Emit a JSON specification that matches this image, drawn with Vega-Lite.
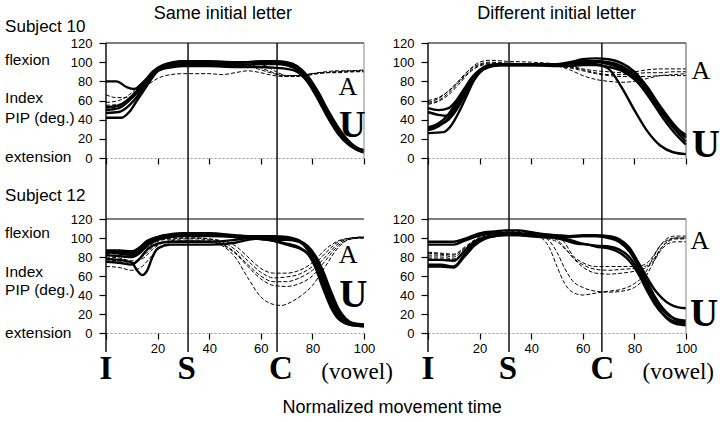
{
"$schema":"https://vega.github.io/schema/vega-lite/v6.json",
"autosize":{"type":"pad"},
"padding":{"left":5,"top":4,"right":2,"bottom":2},
"background":"white",
"columns":2,
"spacing":{"row":61,"column":64},
"bounds":"flush",
"config":{"view":{"stroke":null},"font":"Liberation Sans",
 "axis":{"labelFont":"Liberation Sans","labelFontSize":13,"labelColor":"black","labelOverlap":false,"labelFlush":false,"tickColor":"black","tickSize":6,"tickWidth":1.2,"labelPadding":3,"grid":false,"domainColor":"#999","domainDash":[2,2],"title":null},
 "axisY":{"domain":false,"labelPadding":7,"tickSize":7}},
"datasets":{
"TLU":[
{"t":1,"x":0,"v":80},{"t":1,"x":4,"v":80},{"t":1,"x":8,"v":74},{"t":1,"x":11,"v":72},{"t":1,"x":14,"v":78},{"t":1,"x":18,"v":88},{"t":1,"x":22,"v":96},{"t":1,"x":26,"v":99},{"t":1,"x":30,"v":100},{"t":1,"x":40,"v":100},{"t":1,"x":50,"v":100},{"t":1,"x":60,"v":100},{"t":1,"x":66,"v":100},{"t":1,"x":70,"v":99},{"t":1,"x":74,"v":95},{"t":1,"x":78,"v":85},{"t":1,"x":82,"v":68},{"t":1,"x":86,"v":48},{"t":1,"x":90,"v":30},{"t":1,"x":94,"v":17},{"t":1,"x":97,"v":11},{"t":1,"x":100,"v":8},
{"t":2,"x":0,"v":42},{"t":2,"x":6,"v":42},{"t":2,"x":9,"v":48},{"t":2,"x":12,"v":60},{"t":2,"x":15,"v":72},{"t":2,"x":18,"v":84},{"t":2,"x":21,"v":93},{"t":2,"x":25,"v":97},{"t":2,"x":30,"v":98},{"t":2,"x":40,"v":98},{"t":2,"x":50,"v":97},{"t":2,"x":60,"v":98},{"t":2,"x":66,"v":98},{"t":2,"x":70,"v":97},{"t":2,"x":74,"v":93},{"t":2,"x":78,"v":82},{"t":2,"x":82,"v":64},{"t":2,"x":86,"v":44},{"t":2,"x":90,"v":27},{"t":2,"x":94,"v":15},{"t":2,"x":97,"v":9},{"t":2,"x":100,"v":6},
{"t":3,"x":0,"v":47},{"t":3,"x":5,"v":48},{"t":3,"x":9,"v":55},{"t":3,"x":12,"v":64},{"t":3,"x":15,"v":76},{"t":3,"x":18,"v":87},{"t":3,"x":22,"v":95},{"t":3,"x":26,"v":99},{"t":3,"x":30,"v":101},{"t":3,"x":40,"v":100},{"t":3,"x":50,"v":99},{"t":3,"x":60,"v":101},{"t":3,"x":66,"v":101},{"t":3,"x":70,"v":100},{"t":3,"x":74,"v":96},{"t":3,"x":78,"v":86},{"t":3,"x":82,"v":70},{"t":3,"x":86,"v":50},{"t":3,"x":90,"v":32},{"t":3,"x":94,"v":18},{"t":3,"x":97,"v":11},{"t":3,"x":100,"v":8},
{"t":4,"x":0,"v":50},{"t":4,"x":5,"v":52},{"t":4,"x":9,"v":60},{"t":4,"x":12,"v":68},{"t":4,"x":15,"v":80},{"t":4,"x":18,"v":90},{"t":4,"x":22,"v":97},{"t":4,"x":26,"v":100},{"t":4,"x":30,"v":101},{"t":4,"x":40,"v":101},{"t":4,"x":50,"v":100},{"t":4,"x":60,"v":100},{"t":4,"x":66,"v":99},{"t":4,"x":70,"v":97},{"t":4,"x":74,"v":92},{"t":4,"x":78,"v":80},{"t":4,"x":82,"v":62},{"t":4,"x":86,"v":42},{"t":4,"x":90,"v":25},{"t":4,"x":94,"v":14},{"t":4,"x":97,"v":9},{"t":4,"x":100,"v":6},
{"t":5,"x":0,"v":53},{"t":5,"x":5,"v":55},{"t":5,"x":9,"v":62},{"t":5,"x":12,"v":70},{"t":5,"x":15,"v":80},{"t":5,"x":18,"v":88},{"t":5,"x":22,"v":93},{"t":5,"x":26,"v":95},{"t":5,"x":30,"v":96},{"t":5,"x":40,"v":96},{"t":5,"x":50,"v":95},{"t":5,"x":60,"v":95},{"t":5,"x":66,"v":94},{"t":5,"x":70,"v":93},{"t":5,"x":74,"v":90},{"t":5,"x":78,"v":80},{"t":5,"x":82,"v":64},{"t":5,"x":86,"v":46},{"t":5,"x":90,"v":29},{"t":5,"x":94,"v":17},{"t":5,"x":97,"v":11},{"t":5,"x":100,"v":8}
],
"TLA":[
{"t":1,"x":0,"v":66},{"t":1,"x":4,"v":63},{"t":1,"x":8,"v":63},{"t":1,"x":12,"v":68},{"t":1,"x":16,"v":76},{"t":1,"x":20,"v":83},{"t":1,"x":25,"v":87},{"t":1,"x":30,"v":88},{"t":1,"x":40,"v":88},{"t":1,"x":45,"v":87},{"t":1,"x":50,"v":89},{"t":1,"x":55,"v":91},{"t":1,"x":60,"v":89},{"t":1,"x":65,"v":86},{"t":1,"x":70,"v":85},{"t":1,"x":75,"v":85},{"t":1,"x":80,"v":87},{"t":1,"x":85,"v":89},{"t":1,"x":90,"v":89},{"t":1,"x":95,"v":90},{"t":1,"x":100,"v":90},
{"t":2,"x":0,"v":58},{"t":2,"x":5,"v":60},{"t":2,"x":9,"v":66},{"t":2,"x":13,"v":76},{"t":2,"x":17,"v":86},{"t":2,"x":21,"v":93},{"t":2,"x":25,"v":96},{"t":2,"x":30,"v":97},{"t":2,"x":40,"v":97},{"t":2,"x":50,"v":96},{"t":2,"x":56,"v":95},{"t":2,"x":60,"v":92},{"t":2,"x":65,"v":88},{"t":2,"x":70,"v":85},{"t":2,"x":75,"v":86},{"t":2,"x":80,"v":88},{"t":2,"x":85,"v":89},{"t":2,"x":90,"v":90},{"t":2,"x":95,"v":91},{"t":2,"x":100,"v":91},
{"t":3,"x":0,"v":55},{"t":3,"x":5,"v":56},{"t":3,"x":9,"v":63},{"t":3,"x":13,"v":75},{"t":3,"x":17,"v":86},{"t":3,"x":21,"v":94},{"t":3,"x":25,"v":98},{"t":3,"x":30,"v":99},{"t":3,"x":40,"v":99},{"t":3,"x":50,"v":98},{"t":3,"x":56,"v":97},{"t":3,"x":60,"v":94},{"t":3,"x":65,"v":89},{"t":3,"x":70,"v":86},{"t":3,"x":75,"v":86},{"t":3,"x":80,"v":88},{"t":3,"x":85,"v":90},{"t":3,"x":90,"v":91},{"t":3,"x":95,"v":91},{"t":3,"x":100,"v":92},
{"t":4,"x":0,"v":52},{"t":4,"x":5,"v":54},{"t":4,"x":9,"v":62},{"t":4,"x":13,"v":74},{"t":4,"x":17,"v":86},{"t":4,"x":21,"v":95},{"t":4,"x":25,"v":99},{"t":4,"x":30,"v":100},{"t":4,"x":40,"v":100},{"t":4,"x":50,"v":100},{"t":4,"x":56,"v":99},{"t":4,"x":62,"v":96},{"t":4,"x":66,"v":90},{"t":4,"x":70,"v":86},{"t":4,"x":75,"v":86},{"t":4,"x":80,"v":88},{"t":4,"x":85,"v":89},{"t":4,"x":90,"v":90},{"t":4,"x":95,"v":90},{"t":4,"x":100,"v":91}
],
"TRU":[
{"t":1,"x":0,"v":26},{"t":1,"x":6,"v":27},{"t":1,"x":9,"v":34},{"t":1,"x":12,"v":48},{"t":1,"x":15,"v":65},{"t":1,"x":18,"v":82},{"t":1,"x":21,"v":92},{"t":1,"x":24,"v":96},{"t":1,"x":28,"v":97},{"t":1,"x":40,"v":97},{"t":1,"x":50,"v":97},{"t":1,"x":55,"v":98},{"t":1,"x":60,"v":99},{"t":1,"x":65,"v":98},{"t":1,"x":70,"v":93},{"t":1,"x":75,"v":74},{"t":1,"x":80,"v":50},{"t":1,"x":85,"v":28},{"t":1,"x":90,"v":13},{"t":1,"x":95,"v":6},{"t":1,"x":100,"v":4},
{"t":2,"x":0,"v":30},{"t":2,"x":4,"v":34},{"t":2,"x":8,"v":40},{"t":2,"x":11,"v":50},{"t":2,"x":14,"v":64},{"t":2,"x":17,"v":78},{"t":2,"x":20,"v":89},{"t":2,"x":24,"v":96},{"t":2,"x":28,"v":98},{"t":2,"x":40,"v":98},{"t":2,"x":50,"v":98},{"t":2,"x":55,"v":100},{"t":2,"x":60,"v":103},{"t":2,"x":65,"v":104},{"t":2,"x":70,"v":103},{"t":2,"x":75,"v":99},{"t":2,"x":80,"v":90},{"t":2,"x":85,"v":74},{"t":2,"x":90,"v":54},{"t":2,"x":95,"v":36},{"t":2,"x":100,"v":22},
{"t":3,"x":0,"v":48},{"t":3,"x":4,"v":45},{"t":3,"x":8,"v":44},{"t":3,"x":11,"v":52},{"t":3,"x":14,"v":66},{"t":3,"x":17,"v":80},{"t":3,"x":20,"v":90},{"t":3,"x":24,"v":96},{"t":3,"x":28,"v":97},{"t":3,"x":40,"v":97},{"t":3,"x":50,"v":97},{"t":3,"x":55,"v":99},{"t":3,"x":60,"v":101},{"t":3,"x":65,"v":101},{"t":3,"x":70,"v":99},{"t":3,"x":75,"v":95},{"t":3,"x":80,"v":86},{"t":3,"x":85,"v":70},{"t":3,"x":90,"v":50},{"t":3,"x":95,"v":32},{"t":3,"x":100,"v":17},
{"t":4,"x":0,"v":52},{"t":4,"x":4,"v":50},{"t":4,"x":8,"v":52},{"t":4,"x":11,"v":60},{"t":4,"x":14,"v":72},{"t":4,"x":17,"v":84},{"t":4,"x":20,"v":92},{"t":4,"x":24,"v":97},{"t":4,"x":28,"v":98},{"t":4,"x":40,"v":98},{"t":4,"x":50,"v":97},{"t":4,"x":55,"v":98},{"t":4,"x":60,"v":100},{"t":4,"x":65,"v":100},{"t":4,"x":70,"v":98},{"t":4,"x":75,"v":93},{"t":4,"x":80,"v":83},{"t":4,"x":85,"v":66},{"t":4,"x":90,"v":46},{"t":4,"x":95,"v":28},{"t":4,"x":100,"v":14},
{"t":5,"x":0,"v":32},{"t":5,"x":4,"v":36},{"t":5,"x":8,"v":46},{"t":5,"x":11,"v":58},{"t":5,"x":14,"v":70},{"t":5,"x":17,"v":82},{"t":5,"x":20,"v":91},{"t":5,"x":24,"v":96},{"t":5,"x":28,"v":97},{"t":5,"x":40,"v":97},{"t":5,"x":50,"v":96},{"t":5,"x":55,"v":96},{"t":5,"x":60,"v":97},{"t":5,"x":65,"v":97},{"t":5,"x":70,"v":95},{"t":5,"x":75,"v":91},{"t":5,"x":80,"v":82},{"t":5,"x":85,"v":68},{"t":5,"x":90,"v":50},{"t":5,"x":95,"v":34},{"t":5,"x":100,"v":24},
{"t":6,"x":0,"v":29},{"t":6,"x":4,"v":33},{"t":6,"x":8,"v":42},{"t":6,"x":11,"v":55},{"t":6,"x":14,"v":68},{"t":6,"x":17,"v":80},{"t":6,"x":20,"v":90},{"t":6,"x":24,"v":95},{"t":6,"x":28,"v":97},{"t":6,"x":40,"v":97},{"t":6,"x":50,"v":97},{"t":6,"x":55,"v":98},{"t":6,"x":60,"v":100},{"t":6,"x":65,"v":101},{"t":6,"x":70,"v":100},{"t":6,"x":75,"v":96},{"t":6,"x":80,"v":87},{"t":6,"x":85,"v":72},{"t":6,"x":90,"v":52},{"t":6,"x":95,"v":35},{"t":6,"x":100,"v":21}
],
"TRA":[
{"t":1,"x":0,"v":60},{"t":1,"x":4,"v":63},{"t":1,"x":8,"v":70},{"t":1,"x":12,"v":80},{"t":1,"x":16,"v":92},{"t":1,"x":20,"v":100},{"t":1,"x":24,"v":102},{"t":1,"x":30,"v":101},{"t":1,"x":40,"v":100},{"t":1,"x":50,"v":98},{"t":1,"x":55,"v":96},{"t":1,"x":60,"v":93},{"t":1,"x":65,"v":91},{"t":1,"x":70,"v":90},{"t":1,"x":75,"v":89},{"t":1,"x":80,"v":90},{"t":1,"x":85,"v":92},{"t":1,"x":90,"v":93},{"t":1,"x":95,"v":93},{"t":1,"x":100,"v":93},
{"t":2,"x":0,"v":57},{"t":2,"x":4,"v":60},{"t":2,"x":8,"v":68},{"t":2,"x":12,"v":79},{"t":2,"x":16,"v":90},{"t":2,"x":20,"v":97},{"t":2,"x":24,"v":99},{"t":2,"x":30,"v":99},{"t":2,"x":40,"v":98},{"t":2,"x":50,"v":97},{"t":2,"x":55,"v":95},{"t":2,"x":60,"v":92},{"t":2,"x":65,"v":89},{"t":2,"x":70,"v":87},{"t":2,"x":75,"v":87},{"t":2,"x":80,"v":88},{"t":2,"x":85,"v":89},{"t":2,"x":90,"v":89},{"t":2,"x":95,"v":90},{"t":2,"x":100,"v":90},
{"t":3,"x":0,"v":56},{"t":3,"x":4,"v":59},{"t":3,"x":8,"v":66},{"t":3,"x":12,"v":77},{"t":3,"x":16,"v":89},{"t":3,"x":20,"v":96},{"t":3,"x":24,"v":98},{"t":3,"x":30,"v":98},{"t":3,"x":40,"v":98},{"t":3,"x":50,"v":96},{"t":3,"x":55,"v":92},{"t":3,"x":60,"v":86},{"t":3,"x":65,"v":82},{"t":3,"x":70,"v":80},{"t":3,"x":75,"v":79},{"t":3,"x":80,"v":80},{"t":3,"x":85,"v":83},{"t":3,"x":90,"v":86},{"t":3,"x":95,"v":87},{"t":3,"x":100,"v":88},
{"t":4,"x":0,"v":58},{"t":4,"x":4,"v":62},{"t":4,"x":8,"v":70},{"t":4,"x":12,"v":81},{"t":4,"x":16,"v":92},{"t":4,"x":20,"v":98},{"t":4,"x":24,"v":100},{"t":4,"x":30,"v":99},{"t":4,"x":40,"v":98},{"t":4,"x":50,"v":96},{"t":4,"x":55,"v":94},{"t":4,"x":60,"v":91},{"t":4,"x":65,"v":88},{"t":4,"x":70,"v":86},{"t":4,"x":75,"v":85},{"t":4,"x":80,"v":85},{"t":4,"x":85,"v":85},{"t":4,"x":90,"v":86},{"t":4,"x":95,"v":86},{"t":4,"x":100,"v":86}
],
"BLU":[
{"t":1,"x":0,"v":86},{"t":1,"x":5,"v":86},{"t":1,"x":10,"v":84},{"t":1,"x":13,"v":88},{"t":1,"x":16,"v":96},{"t":1,"x":20,"v":101},{"t":1,"x":25,"v":104},{"t":1,"x":30,"v":105},{"t":1,"x":40,"v":105},{"t":1,"x":50,"v":103},{"t":1,"x":55,"v":102},{"t":1,"x":60,"v":102},{"t":1,"x":65,"v":102},{"t":1,"x":70,"v":101},{"t":1,"x":75,"v":97},{"t":1,"x":78,"v":90},{"t":1,"x":81,"v":75},{"t":1,"x":84,"v":55},{"t":1,"x":87,"v":33},{"t":1,"x":90,"v":18},{"t":1,"x":93,"v":11},{"t":1,"x":96,"v":9},{"t":1,"x":100,"v":8},
{"t":2,"x":0,"v":85},{"t":2,"x":5,"v":84},{"t":2,"x":10,"v":82},{"t":2,"x":13,"v":86},{"t":2,"x":16,"v":94},{"t":2,"x":20,"v":100},{"t":2,"x":25,"v":103},{"t":2,"x":30,"v":104},{"t":2,"x":40,"v":104},{"t":2,"x":50,"v":101},{"t":2,"x":55,"v":100},{"t":2,"x":60,"v":99},{"t":2,"x":65,"v":97},{"t":2,"x":70,"v":94},{"t":2,"x":75,"v":90},{"t":2,"x":78,"v":84},{"t":2,"x":81,"v":70},{"t":2,"x":84,"v":48},{"t":2,"x":87,"v":28},{"t":2,"x":90,"v":15},{"t":2,"x":93,"v":10},{"t":2,"x":96,"v":8},{"t":2,"x":100,"v":7},
{"t":3,"x":0,"v":78},{"t":3,"x":5,"v":77},{"t":3,"x":10,"v":74},{"t":3,"x":12,"v":66},{"t":3,"x":14,"v":61},{"t":3,"x":16,"v":66},{"t":3,"x":18,"v":80},{"t":3,"x":20,"v":89},{"t":3,"x":25,"v":93},{"t":3,"x":30,"v":93},{"t":3,"x":40,"v":93},{"t":3,"x":50,"v":95},{"t":3,"x":55,"v":98},{"t":3,"x":60,"v":100},{"t":3,"x":65,"v":100},{"t":3,"x":70,"v":100},{"t":3,"x":75,"v":96},{"t":3,"x":78,"v":88},{"t":3,"x":81,"v":72},{"t":3,"x":84,"v":52},{"t":3,"x":87,"v":30},{"t":3,"x":90,"v":16},{"t":3,"x":93,"v":10},{"t":3,"x":96,"v":8},{"t":3,"x":100,"v":7},
{"t":4,"x":0,"v":82},{"t":4,"x":5,"v":81},{"t":4,"x":10,"v":80},{"t":4,"x":13,"v":84},{"t":4,"x":16,"v":92},{"t":4,"x":20,"v":98},{"t":4,"x":25,"v":101},{"t":4,"x":30,"v":102},{"t":4,"x":40,"v":102},{"t":4,"x":50,"v":101},{"t":4,"x":55,"v":100},{"t":4,"x":60,"v":99},{"t":4,"x":65,"v":98},{"t":4,"x":70,"v":98},{"t":4,"x":75,"v":96},{"t":4,"x":78,"v":91},{"t":4,"x":81,"v":80},{"t":4,"x":84,"v":62},{"t":4,"x":87,"v":40},{"t":4,"x":90,"v":22},{"t":4,"x":93,"v":13},{"t":4,"x":96,"v":10},{"t":4,"x":100,"v":9},
{"t":5,"x":0,"v":75},{"t":5,"x":5,"v":74},{"t":5,"x":10,"v":72},{"t":5,"x":13,"v":78},{"t":5,"x":16,"v":88},{"t":5,"x":20,"v":94},{"t":5,"x":25,"v":96},{"t":5,"x":30,"v":96},{"t":5,"x":40,"v":96},{"t":5,"x":50,"v":98},{"t":5,"x":55,"v":100},{"t":5,"x":60,"v":101},{"t":5,"x":65,"v":101},{"t":5,"x":70,"v":100},{"t":5,"x":75,"v":97},{"t":5,"x":78,"v":92},{"t":5,"x":81,"v":82},{"t":5,"x":84,"v":66},{"t":5,"x":87,"v":45},{"t":5,"x":90,"v":26},{"t":5,"x":93,"v":15},{"t":5,"x":96,"v":10},{"t":5,"x":100,"v":8},
{"t":6,"x":0,"v":87},{"t":6,"x":5,"v":87},{"t":6,"x":10,"v":86},{"t":6,"x":13,"v":90},{"t":6,"x":16,"v":97},{"t":6,"x":20,"v":101},{"t":6,"x":25,"v":103},{"t":6,"x":30,"v":103},{"t":6,"x":40,"v":103},{"t":6,"x":50,"v":102},{"t":6,"x":55,"v":101},{"t":6,"x":60,"v":100},{"t":6,"x":65,"v":97},{"t":6,"x":70,"v":93},{"t":6,"x":75,"v":89},{"t":6,"x":78,"v":84},{"t":6,"x":81,"v":74},{"t":6,"x":84,"v":58},{"t":6,"x":87,"v":38},{"t":6,"x":90,"v":22},{"t":6,"x":93,"v":13},{"t":6,"x":96,"v":9},{"t":6,"x":100,"v":8}
],
"BLA":[
{"t":1,"x":0,"v":70},{"t":1,"x":5,"v":69},{"t":1,"x":10,"v":66},{"t":1,"x":14,"v":70},{"t":1,"x":18,"v":82},{"t":1,"x":22,"v":92},{"t":1,"x":26,"v":96},{"t":1,"x":30,"v":97},{"t":1,"x":35,"v":97},{"t":1,"x":40,"v":96},{"t":1,"x":45,"v":92},{"t":1,"x":50,"v":80},{"t":1,"x":55,"v":58},{"t":1,"x":60,"v":38},{"t":1,"x":65,"v":30},{"t":1,"x":68,"v":29},{"t":1,"x":72,"v":33},{"t":1,"x":76,"v":40},{"t":1,"x":80,"v":50},{"t":1,"x":85,"v":70},{"t":1,"x":90,"v":90},{"t":1,"x":95,"v":99},{"t":1,"x":100,"v":100},
{"t":2,"x":0,"v":80},{"t":2,"x":5,"v":79},{"t":2,"x":10,"v":76},{"t":2,"x":14,"v":78},{"t":2,"x":18,"v":88},{"t":2,"x":22,"v":95},{"t":2,"x":26,"v":98},{"t":2,"x":30,"v":99},{"t":2,"x":35,"v":99},{"t":2,"x":40,"v":98},{"t":2,"x":45,"v":94},{"t":2,"x":50,"v":85},{"t":2,"x":55,"v":72},{"t":2,"x":60,"v":60},{"t":2,"x":65,"v":54},{"t":2,"x":70,"v":54},{"t":2,"x":75,"v":58},{"t":2,"x":80,"v":66},{"t":2,"x":85,"v":80},{"t":2,"x":90,"v":94},{"t":2,"x":95,"v":100},{"t":2,"x":100,"v":101},
{"t":3,"x":0,"v":82},{"t":3,"x":5,"v":81},{"t":3,"x":10,"v":80},{"t":3,"x":14,"v":86},{"t":3,"x":18,"v":94},{"t":3,"x":22,"v":98},{"t":3,"x":26,"v":99},{"t":3,"x":30,"v":100},{"t":3,"x":35,"v":100},{"t":3,"x":40,"v":99},{"t":3,"x":45,"v":96},{"t":3,"x":50,"v":88},{"t":3,"x":55,"v":76},{"t":3,"x":60,"v":64},{"t":3,"x":65,"v":58},{"t":3,"x":70,"v":59},{"t":3,"x":75,"v":62},{"t":3,"x":80,"v":70},{"t":3,"x":85,"v":84},{"t":3,"x":90,"v":96},{"t":3,"x":95,"v":100},{"t":3,"x":100,"v":101},
{"t":4,"x":0,"v":77},{"t":4,"x":5,"v":76},{"t":4,"x":10,"v":74},{"t":4,"x":14,"v":80},{"t":4,"x":18,"v":90},{"t":4,"x":22,"v":95},{"t":4,"x":26,"v":97},{"t":4,"x":30,"v":97},{"t":4,"x":35,"v":97},{"t":4,"x":40,"v":97},{"t":4,"x":45,"v":93},{"t":4,"x":50,"v":84},{"t":4,"x":55,"v":70},{"t":4,"x":60,"v":57},{"t":4,"x":65,"v":50},{"t":4,"x":70,"v":49},{"t":4,"x":75,"v":52},{"t":4,"x":80,"v":60},{"t":4,"x":85,"v":76},{"t":4,"x":90,"v":92},{"t":4,"x":95,"v":99},{"t":4,"x":100,"v":100},
{"t":5,"x":0,"v":84},{"t":5,"x":5,"v":83},{"t":5,"x":10,"v":82},{"t":5,"x":14,"v":88},{"t":5,"x":18,"v":96},{"t":5,"x":22,"v":99},{"t":5,"x":26,"v":100},{"t":5,"x":30,"v":100},{"t":5,"x":35,"v":100},{"t":5,"x":40,"v":99},{"t":5,"x":45,"v":97},{"t":5,"x":50,"v":92},{"t":5,"x":55,"v":80},{"t":5,"x":60,"v":68},{"t":5,"x":65,"v":63},{"t":5,"x":70,"v":63},{"t":5,"x":75,"v":66},{"t":5,"x":80,"v":74},{"t":5,"x":85,"v":88},{"t":5,"x":90,"v":97},{"t":5,"x":95,"v":100},{"t":5,"x":100,"v":101}
],
"BRU":[
{"t":1,"x":0,"v":96},{"t":1,"x":5,"v":96},{"t":1,"x":10,"v":96},{"t":1,"x":14,"v":99},{"t":1,"x":18,"v":103},{"t":1,"x":22,"v":106},{"t":1,"x":26,"v":107},{"t":1,"x":30,"v":108},{"t":1,"x":35,"v":108},{"t":1,"x":40,"v":106},{"t":1,"x":45,"v":104},{"t":1,"x":50,"v":103},{"t":1,"x":55,"v":102},{"t":1,"x":60,"v":103},{"t":1,"x":65,"v":103},{"t":1,"x":70,"v":102},{"t":1,"x":74,"v":99},{"t":1,"x":78,"v":90},{"t":1,"x":82,"v":72},{"t":1,"x":85,"v":58},{"t":1,"x":88,"v":45},{"t":1,"x":91,"v":36},{"t":1,"x":94,"v":30},{"t":1,"x":97,"v":27},{"t":1,"x":100,"v":26},
{"t":2,"x":0,"v":93},{"t":2,"x":5,"v":93},{"t":2,"x":10,"v":93},{"t":2,"x":14,"v":97},{"t":2,"x":18,"v":101},{"t":2,"x":22,"v":104},{"t":2,"x":26,"v":105},{"t":2,"x":30,"v":105},{"t":2,"x":35,"v":105},{"t":2,"x":40,"v":104},{"t":2,"x":45,"v":103},{"t":2,"x":50,"v":102},{"t":2,"x":55,"v":101},{"t":2,"x":60,"v":102},{"t":2,"x":65,"v":102},{"t":2,"x":70,"v":100},{"t":2,"x":74,"v":96},{"t":2,"x":78,"v":86},{"t":2,"x":82,"v":68},{"t":2,"x":85,"v":52},{"t":2,"x":88,"v":36},{"t":2,"x":91,"v":24},{"t":2,"x":94,"v":17},{"t":2,"x":97,"v":14},{"t":2,"x":100,"v":13},
{"t":3,"x":0,"v":77},{"t":3,"x":5,"v":77},{"t":3,"x":10,"v":76},{"t":3,"x":14,"v":86},{"t":3,"x":18,"v":96},{"t":3,"x":22,"v":101},{"t":3,"x":26,"v":103},{"t":3,"x":30,"v":104},{"t":3,"x":35,"v":104},{"t":3,"x":40,"v":103},{"t":3,"x":45,"v":102},{"t":3,"x":50,"v":100},{"t":3,"x":55,"v":96},{"t":3,"x":58,"v":94},{"t":3,"x":62,"v":93},{"t":3,"x":65,"v":91},{"t":3,"x":70,"v":89},{"t":3,"x":74,"v":85},{"t":3,"x":78,"v":76},{"t":3,"x":82,"v":60},{"t":3,"x":85,"v":44},{"t":3,"x":88,"v":30},{"t":3,"x":91,"v":20},{"t":3,"x":94,"v":14},{"t":3,"x":97,"v":11},{"t":3,"x":100,"v":10},
{"t":4,"x":0,"v":72},{"t":4,"x":5,"v":72},{"t":4,"x":10,"v":70},{"t":4,"x":14,"v":82},{"t":4,"x":18,"v":94},{"t":4,"x":22,"v":100},{"t":4,"x":26,"v":102},{"t":4,"x":30,"v":103},{"t":4,"x":35,"v":103},{"t":4,"x":40,"v":102},{"t":4,"x":45,"v":101},{"t":4,"x":50,"v":100},{"t":4,"x":55,"v":98},{"t":4,"x":60,"v":94},{"t":4,"x":65,"v":92},{"t":4,"x":70,"v":91},{"t":4,"x":74,"v":88},{"t":4,"x":78,"v":80},{"t":4,"x":82,"v":64},{"t":4,"x":85,"v":48},{"t":4,"x":88,"v":32},{"t":4,"x":91,"v":20},{"t":4,"x":94,"v":12},{"t":4,"x":97,"v":9},{"t":4,"x":100,"v":8},
{"t":5,"x":0,"v":70},{"t":5,"x":5,"v":70},{"t":5,"x":10,"v":69},{"t":5,"x":14,"v":80},{"t":5,"x":18,"v":92},{"t":5,"x":22,"v":99},{"t":5,"x":26,"v":102},{"t":5,"x":30,"v":103},{"t":5,"x":35,"v":103},{"t":5,"x":40,"v":102},{"t":5,"x":45,"v":101},{"t":5,"x":50,"v":101},{"t":5,"x":55,"v":102},{"t":5,"x":60,"v":102},{"t":5,"x":65,"v":102},{"t":5,"x":70,"v":101},{"t":5,"x":74,"v":98},{"t":5,"x":78,"v":88},{"t":5,"x":82,"v":70},{"t":5,"x":85,"v":54},{"t":5,"x":88,"v":38},{"t":5,"x":91,"v":26},{"t":5,"x":94,"v":18},{"t":5,"x":97,"v":13},{"t":5,"x":100,"v":12}
],
"BRA":[
{"t":1,"x":0,"v":85},{"t":1,"x":5,"v":84},{"t":1,"x":10,"v":83},{"t":1,"x":14,"v":90},{"t":1,"x":18,"v":98},{"t":1,"x":22,"v":103},{"t":1,"x":26,"v":105},{"t":1,"x":30,"v":106},{"t":1,"x":35,"v":106},{"t":1,"x":40,"v":104},{"t":1,"x":44,"v":100},{"t":1,"x":47,"v":90},{"t":1,"x":50,"v":70},{"t":1,"x":53,"v":52},{"t":1,"x":56,"v":43},{"t":1,"x":60,"v":40},{"t":1,"x":65,"v":42},{"t":1,"x":70,"v":44},{"t":1,"x":75,"v":46},{"t":1,"x":80,"v":52},{"t":1,"x":84,"v":62},{"t":1,"x":87,"v":78},{"t":1,"x":90,"v":92},{"t":1,"x":93,"v":98},{"t":1,"x":96,"v":100},{"t":1,"x":100,"v":100},
{"t":2,"x":0,"v":80},{"t":2,"x":5,"v":80},{"t":2,"x":10,"v":78},{"t":2,"x":14,"v":86},{"t":2,"x":18,"v":95},{"t":2,"x":22,"v":100},{"t":2,"x":26,"v":103},{"t":2,"x":30,"v":104},{"t":2,"x":35,"v":105},{"t":2,"x":40,"v":104},{"t":2,"x":44,"v":102},{"t":2,"x":47,"v":97},{"t":2,"x":50,"v":85},{"t":2,"x":53,"v":68},{"t":2,"x":56,"v":55},{"t":2,"x":60,"v":48},{"t":2,"x":65,"v":44},{"t":2,"x":70,"v":43},{"t":2,"x":75,"v":44},{"t":2,"x":80,"v":48},{"t":2,"x":84,"v":58},{"t":2,"x":87,"v":72},{"t":2,"x":90,"v":88},{"t":2,"x":93,"v":96},{"t":2,"x":96,"v":99},{"t":2,"x":100,"v":99},
{"t":3,"x":0,"v":82},{"t":3,"x":5,"v":82},{"t":3,"x":10,"v":80},{"t":3,"x":14,"v":88},{"t":3,"x":18,"v":97},{"t":3,"x":22,"v":102},{"t":3,"x":26,"v":105},{"t":3,"x":30,"v":107},{"t":3,"x":35,"v":107},{"t":3,"x":40,"v":106},{"t":3,"x":45,"v":104},{"t":3,"x":50,"v":102},{"t":3,"x":53,"v":95},{"t":3,"x":56,"v":82},{"t":3,"x":60,"v":74},{"t":3,"x":65,"v":70},{"t":3,"x":70,"v":70},{"t":3,"x":75,"v":70},{"t":3,"x":80,"v":70},{"t":3,"x":84,"v":72},{"t":3,"x":87,"v":80},{"t":3,"x":90,"v":92},{"t":3,"x":93,"v":100},{"t":3,"x":96,"v":102},{"t":3,"x":100,"v":102},
{"t":4,"x":0,"v":84},{"t":4,"x":5,"v":83},{"t":4,"x":10,"v":82},{"t":4,"x":14,"v":89},{"t":4,"x":18,"v":97},{"t":4,"x":22,"v":101},{"t":4,"x":26,"v":103},{"t":4,"x":30,"v":104},{"t":4,"x":35,"v":104},{"t":4,"x":40,"v":104},{"t":4,"x":45,"v":102},{"t":4,"x":50,"v":98},{"t":4,"x":53,"v":90},{"t":4,"x":56,"v":80},{"t":4,"x":60,"v":72},{"t":4,"x":65,"v":67},{"t":4,"x":70,"v":66},{"t":4,"x":75,"v":67},{"t":4,"x":80,"v":68},{"t":4,"x":84,"v":70},{"t":4,"x":87,"v":76},{"t":4,"x":90,"v":88},{"t":4,"x":93,"v":97},{"t":4,"x":96,"v":100},{"t":4,"x":100,"v":100},
{"t":5,"x":0,"v":78},{"t":5,"x":5,"v":78},{"t":5,"x":10,"v":77},{"t":5,"x":14,"v":84},{"t":5,"x":18,"v":93},{"t":5,"x":22,"v":99},{"t":5,"x":26,"v":102},{"t":5,"x":30,"v":103},{"t":5,"x":35,"v":103},{"t":5,"x":40,"v":102},{"t":5,"x":45,"v":100},{"t":5,"x":50,"v":96},{"t":5,"x":54,"v":86},{"t":5,"x":58,"v":74},{"t":5,"x":62,"v":66},{"t":5,"x":65,"v":63},{"t":5,"x":70,"v":62},{"t":5,"x":75,"v":63},{"t":5,"x":80,"v":65},{"t":5,"x":84,"v":68},{"t":5,"x":87,"v":74},{"t":5,"x":90,"v":86},{"t":5,"x":93,"v":94},{"t":5,"x":96,"v":96},{"t":5,"x":100,"v":96}
]
},
"concat":[
{"width":258,"height":115,"layer":[
 {"data":{"name":"TLU"},"mark":{"type":"line","interpolate":"monotone","color":"black","strokeWidth":2.4},"encoding":{"x":{"field":"x","type":"quantitative","scale":{"domain":[0,100],"nice":false,"zero":false},"axis":{"tickCount":5,"labels":false}},"y":{"field":"v","type":"quantitative","scale":{"domain":[0,120],"nice":false},"axis":{"tickCount":6}},"detail":{"field":"t"}}},
 {"data":{"name":"TLA"},"mark":{"type":"line","interpolate":"monotone","color":"black","strokeWidth":1,"strokeDash":[4,2]},"encoding":{"x":{"field":"x","type":"quantitative"},"y":{"field":"v","type":"quantitative"},"detail":{"field":"t"}}},
 {"data":{"values":[{"x":0},{"x":31.8},{"x":66.3}]},"mark":{"type":"rule","color":"black","strokeWidth":1.4},"encoding":{"x":{"field":"x","type":"quantitative"},"y":{"datum":120},"y2":{"datum":-63.65}}},
 {"data":{"values":[{}]},"mark":{"type":"rule","color":"black","strokeWidth":1.2},"encoding":{"x":{"datum":0},"x2":{"datum":100},"y":{"datum":120}}},
 {"data":{"values":[{}]},"mark":{"type":"rule","color":"#888","strokeWidth":1},"encoding":{"x":{"datum":100},"y":{"datum":0},"y2":{"datum":120}}},
 {"data":{"values":[{}]},"mark":{"type":"text","text":"Same initial letter","align":"center","baseline":"middle","font":"Liberation Sans","fontSize":18},"encoding":{"x":{"datum":45.3},"y":{"datum":150.6}}},
 {"data":{"values":[{}]},"mark":{"type":"text","text":"Subject 10","align":"left","baseline":"middle","font":"Liberation Sans","fontSize":17},"encoding":{"x":{"datum":-39.1},"y":{"datum":136.7}}},
 {"data":{"values":[{}]},"mark":{"type":"text","text":"flexion","align":"left","baseline":"middle","font":"Liberation Sans","fontSize":15.5},"encoding":{"x":{"datum":-39.1},"y":{"datum":102.3}}},
 {"data":{"values":[{}]},"mark":{"type":"text","text":"Index","align":"left","baseline":"middle","font":"Liberation Sans","fontSize":15.5},"encoding":{"x":{"datum":-39.1},"y":{"datum":62.6}}},
 {"data":{"values":[{}]},"mark":{"type":"text","text":"PIP (deg.)","align":"left","baseline":"middle","font":"Liberation Sans","fontSize":15.5},"encoding":{"x":{"datum":-39.1},"y":{"datum":41.8}}},
 {"data":{"values":[{}]},"mark":{"type":"text","text":"extension","align":"left","baseline":"middle","font":"Liberation Sans","fontSize":15.5},"encoding":{"x":{"datum":-39.1},"y":{"datum":1}}},
 {"data":{"values":[{}]},"mark":{"type":"text","text":"A","align":"center","baseline":"middle","font":"Liberation Serif","fontSize":26},"encoding":{"x":{"datum":93.8},"y":{"datum":74.6}}},
 {"data":{"values":[{}]},"mark":{"type":"text","text":"U","align":"center","baseline":"middle","font":"Liberation Serif","fontWeight":"bold","fontSize":37},"encoding":{"x":{"datum":95.5},"y":{"datum":33.9}}}
]},
{"width":258,"height":115,"layer":[
 {"data":{"name":"TRU"},"mark":{"type":"line","interpolate":"monotone","color":"black","strokeWidth":2.4},"encoding":{"x":{"field":"x","type":"quantitative","scale":{"domain":[0,100],"nice":false,"zero":false},"axis":{"tickCount":5,"labels":false}},"y":{"field":"v","type":"quantitative","scale":{"domain":[0,120],"nice":false},"axis":{"tickCount":6}},"detail":{"field":"t"}}},
 {"data":{"name":"TRA"},"mark":{"type":"line","interpolate":"monotone","color":"black","strokeWidth":1,"strokeDash":[4,2]},"encoding":{"x":{"field":"x","type":"quantitative"},"y":{"field":"v","type":"quantitative"},"detail":{"field":"t"}}},
 {"data":{"values":[{"x":0},{"x":31.4},{"x":67.4}]},"mark":{"type":"rule","color":"black","strokeWidth":1.4},"encoding":{"x":{"field":"x","type":"quantitative"},"y":{"datum":120},"y2":{"datum":-63.65}}},
 {"data":{"values":[{}]},"mark":{"type":"rule","color":"black","strokeWidth":1.2},"encoding":{"x":{"datum":0},"x2":{"datum":100},"y":{"datum":120}}},
 {"data":{"values":[{}]},"mark":{"type":"rule","color":"#555","strokeWidth":1},"encoding":{"x":{"datum":100},"y":{"datum":0},"y2":{"datum":120}}},
 {"data":{"values":[{}]},"mark":{"type":"text","text":"Different initial letter","align":"center","baseline":"middle","font":"Liberation Sans","fontSize":18},"encoding":{"x":{"datum":49.9},"y":{"datum":150.6}}},
 {"data":{"values":[{}]},"mark":{"type":"text","text":"A","align":"center","baseline":"middle","font":"Liberation Serif","fontSize":26},"encoding":{"x":{"datum":105.8},"y":{"datum":90.8}}},
 {"data":{"values":[{}]},"mark":{"type":"text","text":"U","align":"center","baseline":"middle","font":"Liberation Serif","fontWeight":"bold","fontSize":39},"encoding":{"x":{"datum":107.7},"y":{"datum":13.9}}}
]},
{"width":258,"height":114,"layer":[
 {"data":{"name":"BLU"},"mark":{"type":"line","interpolate":"monotone","color":"black","strokeWidth":2.4},"encoding":{"x":{"field":"x","type":"quantitative","scale":{"domain":[0,100],"nice":false,"zero":false},"axis":{"tickCount":5,"labelExpr":"datum.value==0?'':datum.label"}},"y":{"field":"v","type":"quantitative","scale":{"domain":[0,120],"nice":false},"axis":{"tickCount":6}},"detail":{"field":"t"}}},
 {"data":{"name":"BLA"},"mark":{"type":"line","interpolate":"monotone","color":"black","strokeWidth":1,"strokeDash":[4,2]},"encoding":{"x":{"field":"x","type":"quantitative"},"y":{"field":"v","type":"quantitative"},"detail":{"field":"t"}}},
 {"data":{"values":[{"x":0},{"x":31.8},{"x":66.3}]},"mark":{"type":"rule","color":"black","strokeWidth":1.4},"encoding":{"x":{"field":"x","type":"quantitative"},"y":{"datum":120},"y2":{"datum":-20}}},
 {"data":{"values":[{}]},"mark":{"type":"rule","color":"black","strokeWidth":1.2},"encoding":{"x":{"datum":0},"x2":{"datum":100},"y":{"datum":120}}},
 {"data":{"values":[{"s":"I","x":0},{"s":"S","x":31.3},{"s":"C","x":67.8}]},"mark":{"type":"text","align":"center","baseline":"middle","font":"Liberation Serif","fontWeight":"bold","fontSize":33},"encoding":{"x":{"field":"x","type":"quantitative"},"y":{"datum":-37.9},"text":{"field":"s"}}},
 {"data":{"values":[{}]},"mark":{"type":"text","text":"(vowel)","align":"center","baseline":"middle","font":"Liberation Serif","fontSize":23},"encoding":{"x":{"datum":97.3},"y":{"datum":-41}}},
 {"data":{"values":[{}]},"mark":{"type":"text","text":"Normalized movement time","align":"center","baseline":"middle","font":"Liberation Sans","fontSize":18},"encoding":{"x":{"datum":110.9},"y":{"datum":-78.9}}},
 {"data":{"values":[{}]},"mark":{"type":"text","text":"Subject 12","align":"left","baseline":"middle","font":"Liberation Sans","fontSize":17},"encoding":{"x":{"datum":-39.1},"y":{"datum":144}}},
 {"data":{"values":[{}]},"mark":{"type":"text","text":"flexion","align":"left","baseline":"middle","font":"Liberation Sans","fontSize":15.5},"encoding":{"x":{"datum":-39.1},"y":{"datum":105.6}}},
 {"data":{"values":[{}]},"mark":{"type":"text","text":"Index","align":"left","baseline":"middle","font":"Liberation Sans","fontSize":15.5},"encoding":{"x":{"datum":-39.1},"y":{"datum":64.5}}},
 {"data":{"values":[{}]},"mark":{"type":"text","text":"PIP (deg.)","align":"left","baseline":"middle","font":"Liberation Sans","fontSize":15.5},"encoding":{"x":{"datum":-39.1},"y":{"datum":45}}},
 {"data":{"values":[{}]},"mark":{"type":"text","text":"extension","align":"left","baseline":"middle","font":"Liberation Sans","fontSize":15.5},"encoding":{"x":{"datum":-39.1},"y":{"datum":0}}},
 {"data":{"values":[{}]},"mark":{"type":"text","text":"A","align":"center","baseline":"middle","font":"Liberation Serif","fontSize":26},"encoding":{"x":{"datum":93.9},"y":{"datum":82.6}}},
 {"data":{"values":[{}]},"mark":{"type":"text","text":"U","align":"center","baseline":"middle","font":"Liberation Serif","fontWeight":"bold","fontSize":39},"encoding":{"x":{"datum":95.9},"y":{"datum":40.5}}}
]},
{"width":258,"height":114,"layer":[
 {"data":{"name":"BRU"},"mark":{"type":"line","interpolate":"monotone","color":"black","strokeWidth":2.4},"encoding":{"x":{"field":"x","type":"quantitative","scale":{"domain":[0,100],"nice":false,"zero":false},"axis":{"tickCount":5,"labelExpr":"datum.value==0?'':datum.label"}},"y":{"field":"v","type":"quantitative","scale":{"domain":[0,120],"nice":false},"axis":{"tickCount":6}},"detail":{"field":"t"}}},
 {"data":{"name":"BRA"},"mark":{"type":"line","interpolate":"monotone","color":"black","strokeWidth":1,"strokeDash":[4,2]},"encoding":{"x":{"field":"x","type":"quantitative"},"y":{"field":"v","type":"quantitative"},"detail":{"field":"t"}}},
 {"data":{"values":[{"x":0},{"x":31.4},{"x":67.4}]},"mark":{"type":"rule","color":"black","strokeWidth":1.4},"encoding":{"x":{"field":"x","type":"quantitative"},"y":{"datum":120},"y2":{"datum":-20}}},
 {"data":{"values":[{}]},"mark":{"type":"rule","color":"black","strokeWidth":1.2},"encoding":{"x":{"datum":0},"x2":{"datum":100},"y":{"datum":120}}},
 {"data":{"values":[{}]},"mark":{"type":"rule","color":"#888","strokeWidth":1},"encoding":{"x":{"datum":100},"y":{"datum":0},"y2":{"datum":120}}},
 {"data":{"values":[{"s":"I","x":0},{"s":"S","x":31},{"s":"C","x":67.6}]},"mark":{"type":"text","align":"center","baseline":"middle","font":"Liberation Serif","fontWeight":"bold","fontSize":33},"encoding":{"x":{"field":"x","type":"quantitative"},"y":{"datum":-37.9},"text":{"field":"s"}}},
 {"data":{"values":[{}]},"mark":{"type":"text","text":"(vowel)","align":"center","baseline":"middle","font":"Liberation Serif","fontSize":23},"encoding":{"x":{"datum":97},"y":{"datum":-41}}},
 {"data":{"values":[{}]},"mark":{"type":"text","text":"A","align":"center","baseline":"middle","font":"Liberation Serif","fontSize":26},"encoding":{"x":{"datum":105.4},"y":{"datum":97}}},
 {"data":{"values":[{}]},"mark":{"type":"text","text":"U","align":"center","baseline":"middle","font":"Liberation Serif","fontWeight":"bold","fontSize":39},"encoding":{"x":{"datum":107},"y":{"datum":19.5}}}
]}
]
}
